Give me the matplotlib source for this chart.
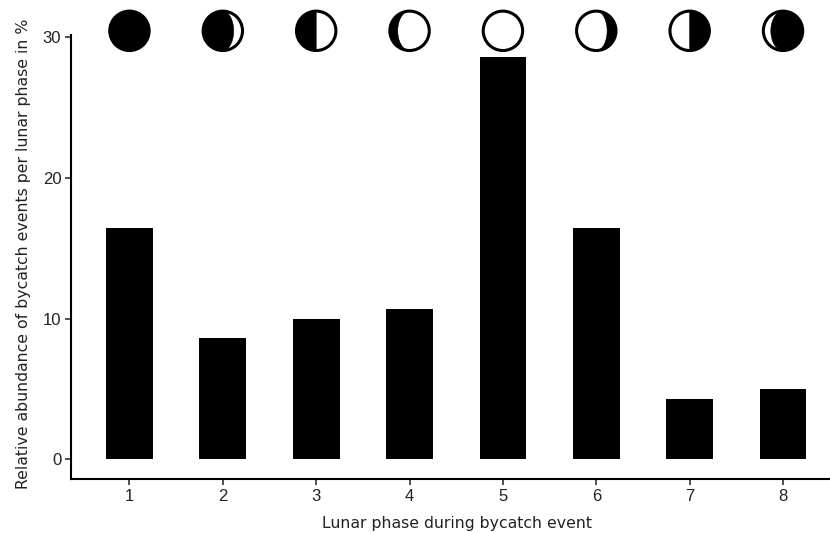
import matplotlib

matplotlib.use("Agg")
import matplotlib.pyplot as plt
import numpy as np
from matplotlib.patches import Circle, PathPatch
from matplotlib.path import Path

phases = [1, 2, 3, 4, 5, 6, 7, 8]
abundance = [16.4, 8.6, 10.0, 10.7, 28.6, 16.4, 4.3, 5.0]
y_ticks = [0, 10, 20, 30]
# terminator offset (fraction of radius) and which side is dark, one per phase
moon_bulge = [1.0, 0.55, 0.0, -0.6, -1.0, -0.55, 0.0, 0.62]
moon_side = [-1, -1, -1, -1, -1, 1, 1, 1]

W, H = 830, 533
LEFT, RIGHT, BOTTOM, TOP = 71, 830, 479, 0
XLIM = (0.374, 8.503)
YLIM = (-1.4, 32.63)
MOON_Y = 30.44  # y scale units
MOON_BOX = 46  # pixels
MOON_R = 19.7  # pixels


def moon_path(bulge, side):
    # dark part: outer half circle plus an elliptic terminator back to the top
    t = np.linspace(np.pi / 2, 3 * np.pi / 2, 60)
    outer = np.column_stack([np.cos(t), np.sin(t)])
    inner = np.column_stack([-bulge * np.cos(t[::-1]), np.sin(t[::-1])])
    pts = np.vstack([outer, inner, outer[:1]])
    pts[:, 0] *= -side
    codes = [Path.MOVETO] + [Path.LINETO] * (len(pts) - 2) + [Path.CLOSEPOLY]
    return Path(pts, codes)


def draw_moon(ax, x, bulge, side):
    # small inset placed through the data scale, its own units are pixels
    dx = MOON_BOX / ((RIGHT - LEFT) / (XLIM[1] - XLIM[0]))
    dy = MOON_BOX / ((BOTTOM - TOP) / (YLIM[1] - YLIM[0]))
    box = ax.inset_axes([x - dx / 2, MOON_Y - dy / 2, dx, dy], transform=ax.transData)
    box.set_xlim(-MOON_BOX / 2, MOON_BOX / 2)
    box.set_ylim(-MOON_BOX / 2, MOON_BOX / 2)
    box.axis("off")
    box.add_patch(Circle((0, 0), MOON_R, fc="white", ec="black", lw=2.2))
    path = moon_path(bulge, side)
    path = Path(path.vertices * MOON_R, path.codes)
    box.add_patch(PathPatch(path, fc="black", ec="black", lw=0.4))


def main():
    plt.rcParams["font.family"] = ["Liberation Sans", "DejaVu Sans"]
    fig = plt.figure(figsize=(W / 100, H / 100), dpi=100)
    ax = fig.add_axes([LEFT / W, 1 - BOTTOM / H, (RIGHT - LEFT) / W, (BOTTOM - TOP) / H])

    ax.bar(phases, abundance, width=0.5, color="black")
    ax.set_xlim(*XLIM)
    ax.set_ylim(*YLIM)
    ax.set_xticks(phases)
    ax.set_yticks(y_ticks)
    ax.tick_params(labelsize=12, width=1.2, length=4, color="#333333", labelcolor="#222222", pad=3)

    for side in ["top", "right"]:
        ax.spines[side].set_visible(False)
    for side in ["left", "bottom"]:
        ax.spines[side].set_linewidth(1.5)
    ax.spines["left"].set_bounds(YLIM[0], 30.15)

    ax.set_xlabel("Lunar phase during bycatch event", fontsize=11.3, family="DejaVu Sans",
                  color="#222222")
    ax.set_ylabel("Relative abundance of bycatch events per lunar phase in %", fontsize=11.3,
                  family="DejaVu Sans", color="#222222")
    ax.xaxis.set_label_coords(0.508, -0.0765)
    ax.yaxis.set_label_coords(-0.053, 0.471)

    for x, bulge, side in zip(phases, moon_bulge, moon_side):
        draw_moon(ax, x, bulge, side)

    fig.savefig("out.png", dpi=100)
    plt.close(fig)


if __name__ == "__main__":
    main()
